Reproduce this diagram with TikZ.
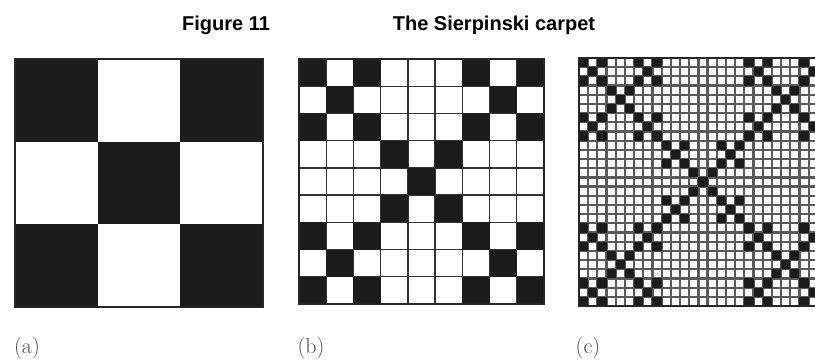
\documentclass[tikz,border=0pt]{standalone}
\usepackage{fontspec}
\newfontfamily\titlefont{Liberation Sans}
\definecolor{cellblack}{HTML}{1C1C1C}
\tikzset{
  blackcell/.style={fill=cellblack},
  gridb/.style={draw=black!80,line width=1.3pt},
  gridc/.style={draw=black!65,line width=2.2pt},
  frame/.style={draw=black!85,line width=1.3pt},
  lbl/.style={font=\fontsize{22}{22}\selectfont, text=black!70, inner sep=0pt},
  ttl/.style={font=\titlefont\bfseries\fontsize{20}{20}\selectfont, inner sep=0pt, anchor=base}
}
\newcommand\carpetcells[4]{% x y size n
  \pgfmathsetmacro\cs{#3/#4}
  \pgfmathtruncatemacro\nm{#4-1}
  \foreach \i in {0,...,\nm}{
    \foreach \j in {0,...,\nm}{
      \pgfmathtruncatemacro\s{mod(mod(\i,3)+mod(\j,3),2)+mod(mod(int(\i/3),3)+mod(int(\j/3),3),2)+mod(int(\i/9)+int(\j/9),2)}
      \ifnum\s=0
        \fill[blackcell] (#1+\j*\cs,#2+\i*\cs) rectangle ++(\cs,\cs);
      \fi
    }
  }
}
\newcommand\carpetgrid[5]{% x y size n style
  \pgfmathsetmacro\cs{#3/#4}
  \pgfmathtruncatemacro\nm{#4-1}
  \foreach \k in {1,...,\nm}{
    \draw[#5] (#1+\k*\cs,#2) -- ++(0,#3);
    \draw[#5] (#1,#2+\k*\cs) -- ++(#3,0);
  }
}
\begin{document}
\begin{tikzpicture}[x=1pt,y=-1pt]
\useasboundingbox (0,0) rectangle (815,362);
\fill[white] (0,0) rectangle (815,362);

% title
\node[ttl] (fig) at (226,30) {Figure 11};
\node[ttl] (ttlb) at (494,30) {The Sierpinski carpet};

% panel (a)
\carpetcells{15}{59}{248}{3}
\draw[frame] (15,59) rectangle (263,307);

% panel (b)
\carpetgrid{299}{59}{245}{9}{gridb}
\carpetcells{299}{59}{245}{9}
\draw[frame] (299,59) rectangle (544,304);

% panel (c)
\begin{scope}
\clip (570,40) rectangle (815,320);
\carpetgrid{579}{58}{248}{27}{gridc}
\carpetcells{579}{58}{248}{27}
\draw[frame] (579,58) rectangle (827,306);
\end{scope}

% labels
\node[lbl] (la) at (27,348) {(a)};
\node[lbl] (lb) at (311,348) {(b)};
\node[lbl] (lc) at (588,348) {(c)};
\end{tikzpicture}
\end{document}
